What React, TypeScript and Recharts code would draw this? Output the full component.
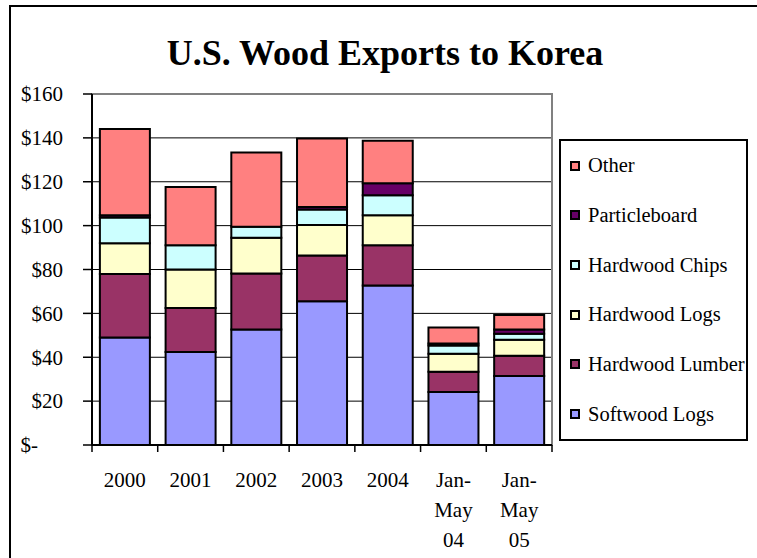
import { BarChart, Bar, XAxis, YAxis, CartesianGrid, Legend, ReferenceArea } from 'recharts';

const FONT = '"Liberation Serif", "Times New Roman", serif';

const CATEGORIES = ['2000', '2001', '2002', '2003', '2004', 'Jan-May 04', 'Jan-May 05'];
const TICK_LINES: string[][] = [
  ['2000'], ['2001'], ['2002'], ['2003'], ['2004'],
  ['Jan-', 'May', '04'], ['Jan-', 'May', '05'],
];

// $ millions
const SOFTWOOD_LOGS = [49, 42.4, 52.7, 65.5, 72.7, 24.2, 31.5];
const HARDWOOD_LUMBER = [29, 20.1, 25.5, 20.9, 18.4, 9.2, 9.2];
const HARDWOOD_LOGS = [14, 17.5, 16.3, 13.9, 13.6, 8.2, 7.3];
const HARDWOOD_CHIPS = [11.7, 11.1, 5, 7.1, 9.1, 3.7, 2.7];
const PARTICLEBOARD = [1, 0, 0, 1.1, 5.5, 1, 1.9];
const OTHER = [39.3, 26.5, 33.8, 31.2, 19.4, 7.3, 6.7];

const Y_TICKS = [0, 20, 40, 60, 80, 100, 120, 140, 160];

const SERIES = [
  { key: 'softwood', name: 'Softwood Logs', color: '#9999FF', values: SOFTWOOD_LOGS },
  { key: 'lumber', name: 'Hardwood Lumber', color: '#993366', values: HARDWOOD_LUMBER },
  { key: 'hwlogs', name: 'Hardwood Logs', color: '#FFFFCC', values: HARDWOOD_LOGS },
  { key: 'chips', name: 'Hardwood Chips', color: '#CCFFFF', values: HARDWOOD_CHIPS },
  { key: 'particle', name: 'Particleboard', color: '#660066', values: PARTICLEBOARD },
  { key: 'other', name: 'Other', color: '#FF8080', values: OTHER },
];

const data = CATEGORIES.map((name, i) => {
  const row: Record<string, string | number> = { name };
  SERIES.forEach((s) => { row[s.key] = s.values[i]; });
  return row;
});

function YTick(props: any) {
  const { x, y, payload } = props;
  const v = payload.value;
  return (
    <text x={v === 0 ? x - 25 : x} y={y} dy="0.35em" textAnchor="end" fontSize={21} fontFamily={FONT} fill="#000">
      {v === 0 ? '$-' : `$${v}`}
    </text>
  );
}

function XTick(props: any) {
  const { x, y, payload } = props;
  const idx = props.index ?? CATEGORIES.indexOf(payload.value);
  const half = payload.offset || 32.86;
  const lines = TICK_LINES[idx] ?? [String(payload.value)];
  return (
    <g>
      <line x1={x - half} x2={x - half} y1={y} y2={y + 7} stroke="#000" strokeWidth={1.5} />
      {idx === CATEGORIES.length - 1 && (
        <line x1={x + half} x2={x + half} y1={y} y2={y + 7} stroke="#000" strokeWidth={1.5} />
      )}
      <text x={x} y={y + 42} textAnchor="middle" fontSize={21} fontFamily={FONT} fill="#000">
        {lines.map((l, i) => (
          <tspan key={i} x={x} dy={i === 0 ? 0 : 30}>{l}</tspan>
        ))}
      </text>
    </g>
  );
}

// legend lists the stack top-down: Other first, Softwood Logs last
function LegendBox(props: any) {
  const order = (name: string) => SERIES.findIndex((s) => s.name === name);
  const items = [...(props.payload || [])].sort((a: any, b: any) => order(b.value) - order(a.value));
  return (
    <div
      style={{
        boxSizing: 'border-box', width: '100%', height: '100%', border: '2px solid #000',
        background: '#fff', display: 'flex', flexDirection: 'column', justifyContent: 'space-around',
        fontFamily: FONT, fontSize: 20.5, color: '#000',
      }}
    >
      {items.map((it: any) => (
        <div key={it.value} style={{ display: 'flex', alignItems: 'center', paddingLeft: 9, whiteSpace: 'nowrap' }}>
          <span style={{ display: 'inline-block', width: 6, height: 6, border: '2px solid #000', background: it.color, marginRight: 8 }} />
          <span>{it.value}</span>
        </div>
      ))}
    </div>
  );
}

export default function App() {
  return (
    <div style={{ position: 'absolute', left: 0, top: 0, width: 757, height: 558, overflow: 'hidden', background: '#fff', fontFamily: FONT }}>
      <div style={{ position: 'absolute', left: 9, top: 5, width: 800, height: 600, border: '2px solid #000' }} />
      <div style={{ position: 'absolute', left: 0, top: 35, width: 770, textAlign: 'center', fontSize: 36, lineHeight: '36px', fontWeight: 'bold' }}>
        U.S. Wood Exports to Korea
      </div>
      <div style={{ position: 'absolute', left: 0, top: 0 }}>
        <BarChart
          width={757}
          height={558}
          data={data}
          margin={{ top: 94, right: 205, bottom: 0, left: 12 }}
          barCategoryGap="12%"
        >
          <CartesianGrid vertical={false} stroke="#000" strokeWidth={1} />
          <ReferenceArea y1={0} y2={160} fill="none" stroke="#808080" strokeWidth={2} />
          <XAxis
            dataKey="name"
            height={113}
            interval={0}
            tickSize={0}
            tickMargin={0}
            tickLine={false}
            axisLine={{ stroke: '#000', strokeWidth: 2 }}
            tick={<XTick />}
          />
          <YAxis
            width={80}
            domain={[0, 160]}
            ticks={Y_TICKS}
            interval={0}
            tickSize={9}
            tickMargin={20}
            axisLine={{ stroke: '#000', strokeWidth: 2 }}
            tickLine={{ stroke: '#000', strokeWidth: 1.5 }}
            tick={<YTick />}
          />
          {SERIES.map((s) => (
            <Bar
              key={s.key}
              dataKey={s.key}
              name={s.name}
              stackId="a"
              fill={s.color}
              stroke="#000"
              strokeWidth={2}
              isAnimationActive={false}
            />
          ))}
          <Legend
            layout="vertical"
            align="center"
            verticalAlign="middle"
            wrapperStyle={{ left: 559, top: 139, width: 189, height: 302 }}
            content={<LegendBox />}
          />
        </BarChart>
      </div>
    </div>
  );
}
